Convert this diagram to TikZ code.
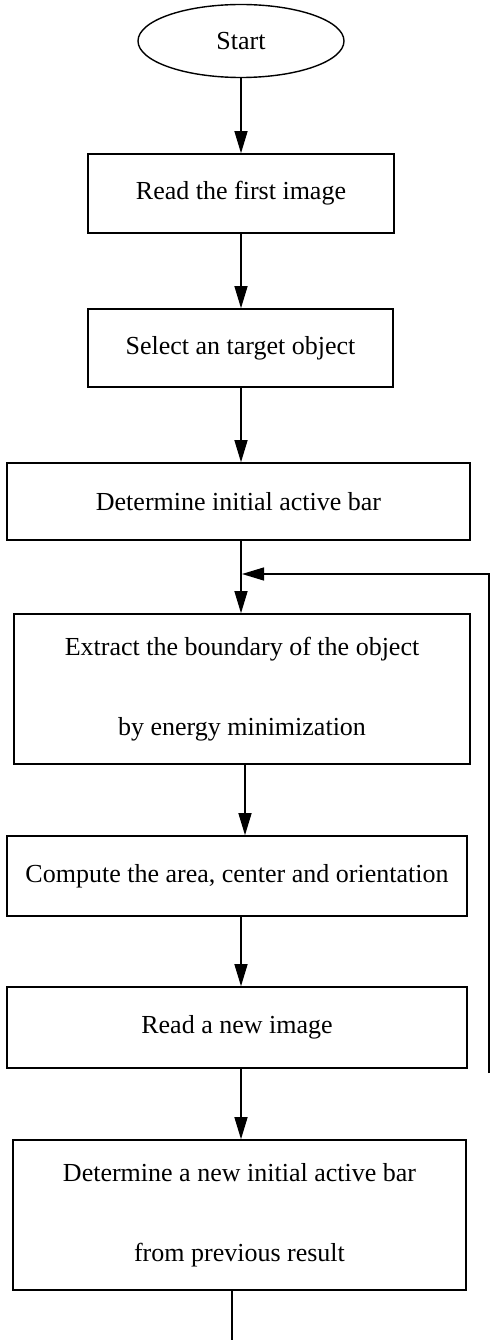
\documentclass[tikz,border=0pt]{standalone}
\usepackage{fontspec}
\setmainfont{Liberation Serif}
\usetikzlibrary{shapes.geometric,arrows.meta}
\begin{document}
\begin{tikzpicture}[x=1pt,y=-1pt,
  every node/.style={font=\fontsize{26}{80}\selectfont},
  stepbox/.style={draw, line width=1.6pt, rectangle, inner sep=0pt, align=center},
  startnode/.style={draw, line width=1.4pt, ellipse, inner sep=0pt, minimum width=206pt, minimum height=73pt},
  flow/.style={line width=1.3pt, -{Triangle[length=22pt,width=13pt]}},
  plain/.style={line width=1.3pt}]
\useasboundingbox (0,0) rectangle (491,1340);
\node[startnode] (s) at (241,41) {Start};
\node[stepbox, minimum width=306pt, minimum height=79pt] (b1) at (241,193.5) {Read the first image};
\node[stepbox, minimum width=305pt, minimum height=78pt] (b2) at (240.5,348) {Select an target object};
\node[stepbox, minimum width=463pt, minimum height=77pt] (b3) at (238.5,501.5) {Determine initial active bar};
\node[stepbox, minimum width=456pt, minimum height=150pt] (b4) at (242,689) {Extract the boundary of the object\\by energy minimization};
\node[stepbox, minimum width=460pt, minimum height=80pt] (b5) at (237,876) {Compute the area, center and orientation};
\node[stepbox, minimum width=460pt, minimum height=81pt] (b6) at (237,1027.5) {Read a new image};
\node[stepbox, minimum width=453pt, minimum height=150pt] (b7) at (239.5,1215) {Determine a new initial active bar\\from previous result};
\coordinate (fbtop) at (489,574);
\coordinate (fbbot) at (489,1073);
\coordinate (fbin) at (242,574);
\coordinate (endpt) at (232,1340);
\draw[flow] (s.south) -- (s.south |- b1.north);
\draw[flow] (b1.south -| 241,0) -- (241,0 |- b2.north);
\draw[flow] (b2.south -| 241,0) -- (241,0 |- b3.north);
\draw[flow] (b3.south -| 241,0) -- (241,0 |- b4.north);
\draw[flow] (b4.south -| 245,0) -- (245,0 |- b5.north);
\draw[flow] (b5.south -| 241,0) -- (241,0 |- b6.north);
\draw[flow] (b6.south -| 241,0) -- (241,0 |- b7.north);
\draw[plain] (b7.south -| endpt) -- (endpt);
\draw[flow] (fbbot) -- (fbtop) -- (fbin);
\end{tikzpicture}
\end{document}
